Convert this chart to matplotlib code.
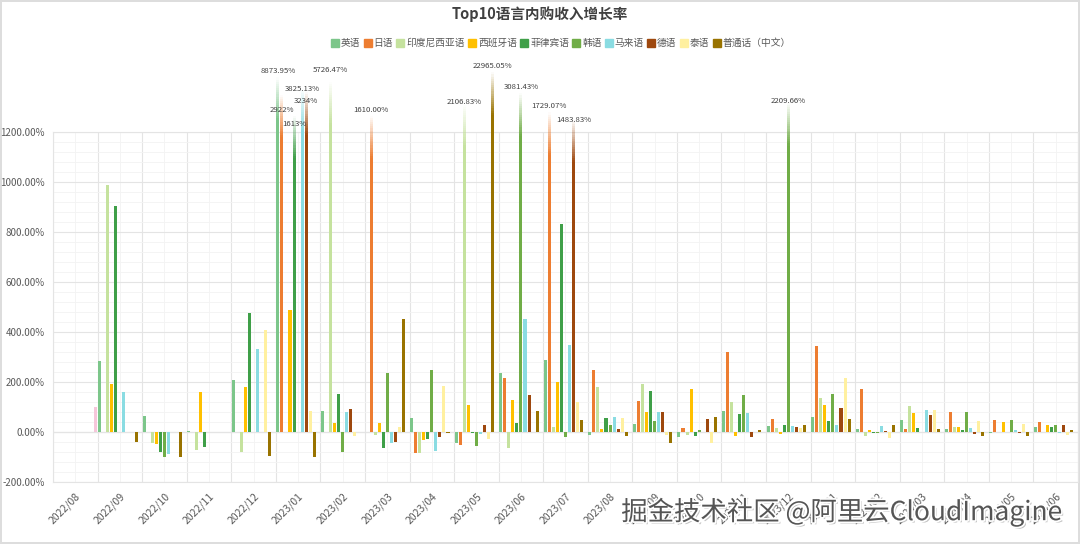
import numpy as np
import matplotlib
matplotlib.use("Agg")
import matplotlib.pyplot as plt
from matplotlib.lines import Line2D
import matplotlib.patheffects as pe

plt.rcParams['font.family'] = ['Noto Sans CJK SC', 'DejaVu Sans']

months = ["2022/08", "2022/09", "2022/10", "2022/11", "2022/12", "2023/01", "2023/02",
          "2023/03", "2023/04", "2023/05", "2023/06", "2023/07", "2023/08", "2023/09",
          "2023/10", "2023/11", "2023/12", "2024/01", "2024/02", "2024/03", "2024/04",
          "2024/05", "2024/06"]

en = [0, 283, 65, 3, 209, 8873.95, 85, 0, 56, -44, 237, 290, -11, 32, -20, 85, 24, 62, 11, 50, 11, -3, 19]
ja = [0, 0, 0, 0, 0, 2922, 0, 1610, -84, -50, 218, 1729.07, 247, 126, 15, 322, 53, 346, 174, 11, 82, 47, 40]
idn = [0, 987, -45, -72, -81, 0, 5726.47, -11, -84, 2106.83, -64, 19, 182, 194, -11, 120, 17, 136, -17, 106, 19, 0, 0]
es = [0, 194, -48, 160, 182, 489, 35, 35, -33, 109, 130, 202, 11, 82, 173, -16, -8, 109, 8, 76, 19, 40, 27]
fil = [0, 903, -78, -60, 476, 1613, 154, -64, -28, -5, 35, 830, 58, 166, -16, 74, 27, 45, -2, 17, 9, 0, 20]
ko = [0, 0, -100, 0, 0, 0, -80, 238, 249, -57, 3081.43, -21, 27, 44, 9, 150, 2209.66, 153, -3, 2, 81, 50, 27]
ms = [0, 162, -89, -1, 334, 3825.13, 82, -44, -76, -9, 453, 348, 62, 81, 0, 77, 23, 27, 23, 90, 16, 7, -2]
de = [0, 0, 0, 0, 0, 3234, 94, -38, -20, 27, 149, 1483.83, 12, 82, 54, -20, 20, 98, 5, 68, -8, -4, 27]
th = [0, 0, 0, 0, 409, 84, -16, 20, 186, -27, 0, 120, 58, -11, -44, 0, 16, 217, -23, 90, 45, 33, -12]
zh = [0, -38, -100, 0, -96, -100, 0, 452, -4, 22965.05, 86, 47, -16, -45, 62, 9, 27, 53, 27, 11, -15, -15, 7]
other = [100, 0, 0, 0, 0, 0, 0, 0, 0, 0, 0, 0, 0, 0, 0, 0, 0, 0, 0, 0, 0, 0, 0]

series_names = ["英语", "日语", "印度尼西亚语", "西班牙语", "菲律宾语", "韩语", "马来语",
                "德语", "泰语", "普通话（中文）", ""]
series_values = [en, ja, idn, es, fil, ko, ms, de, th, zh, other]
series_colors = ["#7CC68A", "#ED7D31", "#C5E29E", "#FFC000", "#3F9F48", "#70AD47",
                 "#8ADCE2", "#9E480E", "#FFF0A0", "#997300", "#F6C6DA"]

# label texts for the bars that run past the axis top
peak_labels = {("英语", "2023/01"): "8873.95%", ("日语", "2023/01"): "2922%",
               ("菲律宾语", "2023/01"): "1613%", ("马来语", "2023/01"): "3825.13%",
               ("德语", "2023/01"): "3234%", ("印度尼西亚语", "2023/02"): "5726.47%",
               ("日语", "2023/03"): "1610.00%", ("印度尼西亚语", "2023/05"): "2106.83%",
               ("普通话（中文）", "2023/05"): "22965.05%", ("韩语", "2023/06"): "3081.43%",
               ("日语", "2023/07"): "1729.07%", ("德语", "2023/07"): "1483.83%",
               ("韩语", "2023/12"): "2209.66%"}
# layout: downward nudge (px) of crowded labels
label_nudge = {("日语", "2023/01"): 21, ("德语", "2023/01"): 15, ("菲律宾语", "2023/01"): 15,
               ("马来语", "2023/01"): 6, ("德语", "2023/07"): 6, ("印度尼西亚语", "2023/02"): -6,
               ("韩语", "2023/12"): 4, ("印度尼西亚语", "2023/05"): 3}

yticks = [-200, 0, 200, 400, 600, 800, 1000, 1200]
CAP = 1200

fig = plt.figure(figsize=(10.8, 5.44), dpi=100)
fig.patch.set_facecolor("white")
ax = fig.add_axes([53/1080, 1-482.3/544, (1078-53)/1080, (482.3-131.6)/544])

n_ser = len(series_values)
x = np.arange(len(months))
slot = 1.0 / n_ser
bw = slot * 0.75


def shown_top(v):
    return CAP + 250 * (1 - np.exp(-1.0 * np.log(v / CAP)))


for s, (name, vals, col) in enumerate(zip(series_names, series_values, series_colors)):
    xs = x - 0.5 + (s + 0.5) * slot
    vals = np.array(vals, dtype=float)
    normal = np.where(vals > CAP, 0, vals)
    ax.bar(xs, normal, width=bw, color=col, zorder=3, linewidth=0)
    for xi, v, m in zip(xs, vals, months):
        if v > CAP:
            top = shown_top(v)
            fade_len = 170
            solid = top - fade_len
            ax.bar(xi, solid, width=bw, color=col, zorder=3, linewidth=0, clip_on=False)
            N = 20
            h = fade_len / N
            for k in range(N):
                a = 1 - (k + 0.5) / N
                ax.bar(xi, h, bottom=solid + k * h, width=bw, color=col, alpha=a,
                       zorder=3, linewidth=0, clip_on=False)
            lab = peak_labels.get((name, m), f"{v:.2f}%")
            dy = label_nudge.get((name, m), 0) * 0.72
            ax.annotate(lab, (xi, top), xytext=(0, 1.5 - dy), textcoords="offset points",
                        ha="center", va="bottom", fontsize=5.6, color="#404040",
                        annotation_clip=False, zorder=5)

ax.set_xlim(-0.5, len(months) - 0.5)
ax.set_ylim(-200, 1200)
ax.set_yticks(yticks)
ax.set_yticklabels([f"{t:.2f}%" for t in yticks], fontsize=7, color="#595959")
ax.set_yticks(np.arange(-200, 1201, 40), minor=True)
ax.set_xticks(x)
ax.set_xticklabels(months, rotation=45, ha="right", rotation_mode="anchor",
                   fontsize=7.5, color="#595959")
ax.set_xticks(np.arange(-0.5, len(months), 1.0), minor=True)
ax.tick_params(axis="both", which="both", length=0)
ax.tick_params(axis="y", pad=6)
ax.tick_params(axis="x", pad=6)

ax.grid(True, axis="y", which="major", color="#E4E4E4", linewidth=0.8, zorder=0)
ax.grid(True, axis="y", which="minor", color="#F3F3F3", linewidth=0.6, zorder=0)
ax.grid(True, axis="x", which="minor", color="#E4E4E4", linewidth=0.8, zorder=0)
ax.grid(True, axis="x", which="major", color="#F3F3F3", linewidth=0.6, zorder=0)
ax.axhline(0, color="#D9D9D9", linewidth=0.8, zorder=1)
for sp in ax.spines.values():
    sp.set_color("#E4E4E4")
    sp.set_linewidth(0.8)

fig.text(0.5, 1 - 14/544, "Top10语言内购收入增长率", ha="center", va="center",
         fontsize=10.5, fontweight="bold", color="#404040")

handles = [Line2D([0], [0], marker="s", linestyle="none", markersize=6,
                  markerfacecolor=c, markeredgecolor=c)
           for c in series_colors[:10]]
fig.legend(handles, series_names[:10], loc="center", bbox_to_anchor=(561/1080, 1 - 43/544),
           ncol=10, frameon=False, fontsize=7, handlelength=0.8, handletextpad=0.2,
           columnspacing=0.35, labelcolor="#595959")

fig.text(1062/1080, 1 - 512/544, "掘金技术社区 @阿里云CloudImagine", ha="right", va="center",
         fontsize=19, color="#555555", zorder=10,
         path_effects=[pe.SimplePatchShadow(offset=(1.5, -1.5), shadow_rgbFace="#9a9a9a", alpha=0.6),
                       pe.withStroke(linewidth=2.5, foreground="white")])

fig.patch.set_edgecolor("#DDDDDD")
fig.patch.set_linewidth(1.5)

fig.savefig("out.png", dpi=100, facecolor=fig.get_facecolor(), edgecolor=fig.get_edgecolor())
